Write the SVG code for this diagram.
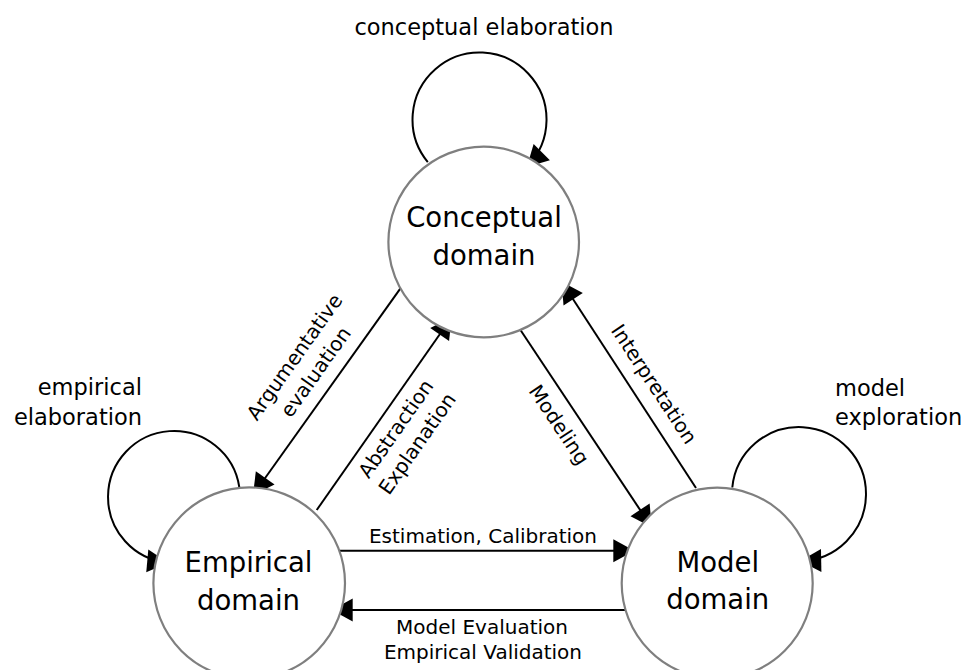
<svg xmlns="http://www.w3.org/2000/svg" width="965" height="670" viewBox="0 0 965 670">
<style>
.node{fill:#fff;stroke:#7f7f7f;stroke-width:2.2}
.nl{font-family:"DejaVu Sans",sans-serif;font-size:27.5px;fill:#000;text-anchor:middle}
.edge{fill:none;stroke:#000;stroke-width:2;marker-end:url(#ah)}
.el{font-family:"DejaVu Sans",sans-serif;font-size:20px;fill:#000;text-anchor:middle}
.ll{font-family:"DejaVu Sans",sans-serif;font-size:22.5px;fill:#000}
</style>
<defs>
<marker id="ah" markerUnits="userSpaceOnUse" markerWidth="22" markerHeight="24" refX="21" refY="11.5" orient="auto" overflow="visible">
<path d="M0,0 L21,11.5 L0,23 z" fill="#000"/>
</marker>
</defs>
<rect width="965" height="670" fill="#fff"/>
<g id="connectors">
<path class="edge" d="M427.8,162.1 A67,67 0 1 1 526.9,166.9"/>
<path class="edge" d="M239.3,487.1 A66,66 0 1 0 168.2,562.7"/>
<path class="edge" d="M732.3,487.5 A67,67 0 1 1 800.2,561"/>
<path class="edge" d="M401.7,286.7 L253,495"/>
<path class="edge" d="M316.7,510 L451.7,317.3"/>
<path class="edge" d="M518.3,326.7 L651.7,527.3"/>
<path class="edge" d="M696,488 L561.7,281.7"/>
<path class="edge" d="M340,550.7 L634.3,550.7"/>
<path class="edge" d="M625,610 L331.7,610"/>
</g>
<g id="conceptual">
<circle class="node" cx="483.7" cy="242" r="95.3"/>
<text class="nl" x="484" y="227">Conceptual</text>
<text class="nl" x="484" y="265">domain</text>
</g>
<g id="empirical">
<circle class="node" cx="249.2" cy="583.2" r="95.8"/>
<text class="nl" x="248.5" y="572">Empirical</text>
<text class="nl" x="248.5" y="609.5">domain</text>
</g>
<g id="model">
<circle class="node" cx="717.2" cy="583.2" r="95.5"/>
<text class="nl" x="717.8" y="572">Model</text>
<text class="nl" x="717.8" y="608.5">domain</text>
</g>
<g id="labels">
<text class="ll" x="484" y="35" text-anchor="middle">conceptual elaboration</text>
<text class="ll" x="142" y="395" text-anchor="end">empirical</text>
<text class="ll" x="142" y="425" text-anchor="end">elaboration</text>
<text class="ll" x="835" y="396">model</text>
<text class="ll" x="835" y="425">exploration</text>
<text class="el" x="483" y="542.5">Estimation, Calibration</text>
<text class="el" x="482" y="633.5">Model Evaluation</text>
<text class="el" x="483" y="658.5">Empirical Validation</text>
<g transform="translate(300.1,360.9) rotate(-54.6)">
<text class="el" x="0" y="0">Argumentative</text>
<text class="el" x="0" y="26">evaluation</text>
</g>
<g transform="translate(401.5,432.7) rotate(-55)">
<text class="el" x="0" y="0">Abstraction</text>
<text class="el" x="0" y="26">Explanation</text>
</g>
<g transform="translate(553.3,428.6) rotate(56.3)">
<text class="el" x="0" y="0">Modeling</text>
</g>
<g transform="translate(648.3,387.8) rotate(56.6)">
<text class="el" x="0" y="0">Interpretation</text>
</g>
</g>
</svg>
